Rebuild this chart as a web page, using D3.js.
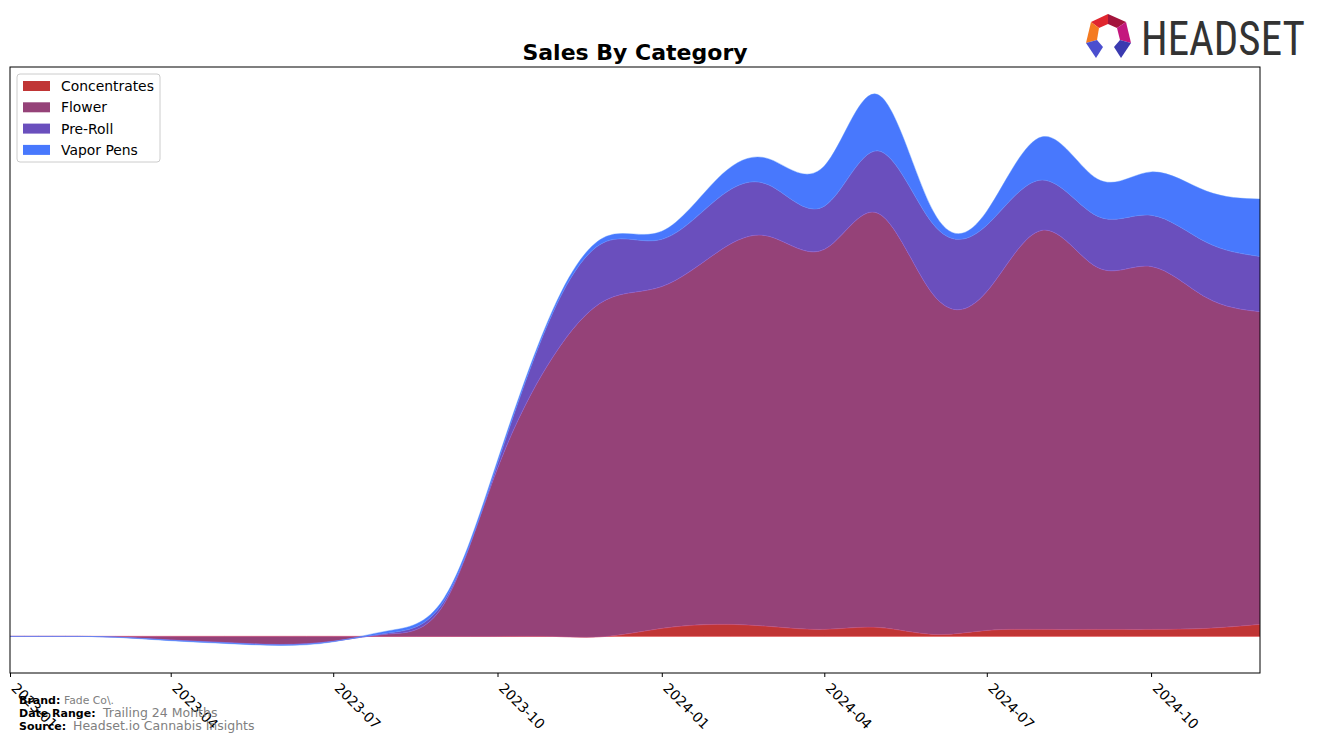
<!DOCTYPE html>
<html>
<head>
<meta charset="utf-8">
<script src="https://cdn.jsdelivr.net/npm/d3@7"></script>
<style>
  html, body { margin: 0; padding: 0; background: #fff; }
  svg { display: block; font-family: "DejaVu Sans", sans-serif; }
</style>
</head>
<body>
<svg id="chart" width="1324" height="743"></svg>
<script>
// ---- data (monthly sales, USD) ----
const months = ["2023-01","2023-02","2023-03","2023-04","2023-05","2023-06","2023-07","2023-08","2023-09","2023-10","2023-11","2023-12",
                "2024-01","2024-02","2024-03","2024-04","2024-05","2024-06","2024-07","2024-08","2024-09","2024-10","2024-11","2024-12"];
const categories = ["Concentrates", "Flower", "Pre-Roll", "Vapor Pens"];
const concentrates = [0,0,0,0,0,0,0,0,0,0,0,0, 800,1200,1000,700,900,200,600,700,700,700,800,1200];
const flower = [0,0,-60,-350,-600,-800,-480,230,3200,16700,27800,33500, 34000,37000,38800,37800,41200,33800,33700,39700,36000,36100,32900,31100];
const preRoll = [0,0,-10,-30,-30,-30,-20,120,300,500,4400,5800, 4700,5300,5100,4300,6200,7000,6600,5000,5100,5100,5500,5500];
const vaporPens = [0,0,-20,-50,-70,-70,-40,220,300,300,300,500, 800,2000,2600,4000,5600,1300,1400,4300,3700,4300,5100,5700];
const tickLabels = ["2023-01","2023-04","2023-07","2023-10","2024-01","2024-04","2024-07","2024-10"];
const colors = ["#c03535", "#954278", "#6a4fbd", "#4878fd"];

const parse = d3.timeParse("%Y-%m");
const rows = months.map((m, i) => ({
  date: parse(m),
  "Concentrates": concentrates[i],
  "Flower": flower[i],
  "Pre-Roll": preRoll[i],
  "Vapor Pens": vaporPens[i]
}));

const svg = d3.select("#chart");
const L = 10, R = 1260, T = 67, B = 673;

const x = d3.scaleTime().domain([parse("2023-01"), parse("2024-12")]).range([L, R]);
const stack = d3.stack().keys(categories).offset(d3.stackOffsetNone);
const series = stack(rows);
let lo = d3.min(series, s => d3.min(s, d => Math.min(d[0], d[1])));
let hi = d3.max(series, s => d3.max(s, d => Math.max(d[0], d[1])));
const pad = (hi - lo) * 0.05;
const y = d3.scaleLinear().domain([lo - pad, hi + pad]).range([B, T]);

svg.append("clipPath").attr("id", "clip")
  .append("rect").attr("x", L).attr("y", T).attr("width", R - L).attr("height", B - T);

const area = d3.area()
  .x(d => x(d.data.date))
  .y0(d => y(d[0]))
  .y1(d => y(d[1]))
  .curve(d3.curveNatural);

svg.append("g").attr("clip-path", "url(#clip)")
  .selectAll("path").data(series).join("path")
  .attr("d", area)
  .attr("fill", (d, i) => colors[i])
  .attr("stroke", (d, i) => d3.color(colors[i]).brighter(0.6))
  .attr("stroke-width", 0.6)
  .attr("stroke-opacity", 0.7);

// frame
svg.append("rect").attr("x", L).attr("y", T).attr("width", R - L).attr("height", B - T)
  .attr("fill", "none").attr("stroke", "#000").attr("stroke-width", 1);

// x axis
const ticks = tickLabels.map(parse);
const ax = svg.append("g").attr("transform", `translate(0,${B})`)
  .call(d3.axisBottom(x).tickValues(ticks).tickFormat(d3.timeFormat("%Y-%m")).tickSize(4).tickPadding(0));
ax.select(".domain").remove();
ax.selectAll(".tick line").attr("stroke", "#000");
ax.selectAll(".tick text")
  .attr("font-size", "13.9px").attr("font-family", "DejaVu Sans, sans-serif").attr("fill", "#000")
  .attr("text-anchor", "start")
  .attr("transform", "translate(5,14) rotate(45)")
  .attr("dx", "-0.15em").attr("dy", "0.35em").attr("y", 0);

// title
svg.append("text").attr("x", (L + R) / 2).attr("y", 60).attr("text-anchor", "middle")
  .attr("font-size", "22px").attr("font-weight", "bold").attr("fill", "#000")
  .text("Sales By Category");

// legend
const lg = svg.append("g");
lg.append("rect").attr("x", 17).attr("y", 74).attr("width", 143).attr("height", 88).attr("rx", 3)
  .attr("fill", "#fff").attr("fill-opacity", 0.8).attr("stroke", "#cccccc");
categories.forEach((c, i) => {
  const cy = 86 + i * 21.3;
  lg.append("rect").attr("x", 23).attr("y", cy - 5).attr("width", 27).attr("height", 10).attr("fill", colors[i]);
  lg.append("text").attr("x", 61).attr("y", cy + 5).attr("font-size", "13.9px").attr("fill", "#000").text(c);
});

// footer
const foot = [
  {label: "Brand:", value: "Fade Co\\.", y: 704, vs: 10.8, vx: 64},
  {label: "Date Range:", value: "Trailing 24 Months", y: 717, vs: 12.5, vx: 103},
  {label: "Source:", value: "Headset.io Cannabis Insights", y: 729.5, vs: 12.5, vx: 73}
];
foot.forEach(f => {
  svg.append("text").attr("x", 19).attr("y", f.y).attr("font-size", "11px").attr("font-weight", "bold").attr("fill", "#000").text(f.label);
  svg.append("text").attr("x", f.vx).attr("y", f.y).attr("font-size", f.vs + "px").attr("fill", "#808080").text(f.value);
});

// logo
const logo = svg.append("g");
const segs = [
  {c: "#e0262f", p: [[1091,22],[1108,14],[1108,24],[1099,28]]},
  {c: "#a3143c", p: [[1108,14],[1126,22],[1117,28],[1108,24]]},
  {c: "#f47a20", p: [[1091,22],[1099,28],[1097,40],[1086,43]]},
  {c: "#c4177e", p: [[1126,22],[1131,43],[1120,40],[1117,28]]},
  {c: "#4b4fcf", p: [[1086,43],[1097,40],[1103,47],[1096,58]]},
  {c: "#3a3ab0", p: [[1131,43],[1120,40],[1114,47],[1121,58]]}
];
segs.forEach(s => logo.append("polygon").attr("points", s.p.map(q => q.join(",")).join(" ")).attr("fill", s.c));
logo.append("text").attr("transform", "translate(1141,55) scale(1,1.1)").attr("font-size", "43px")
  .attr("font-family", "Liberation Sans Narrow, Roboto Condensed, sans-serif").attr("fill", "#333333")
  .text("HEADSET");
</script>
</body>
</html>
